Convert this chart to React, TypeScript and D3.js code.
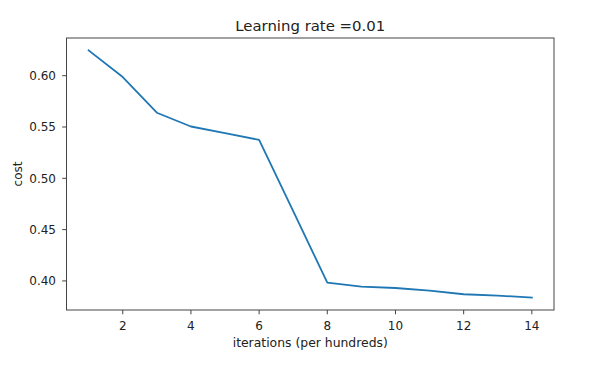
import React from "react";
import * as d3 from "d3";

const iterations = [1, 2, 3, 4, 5, 6, 7, 8, 9, 10, 11, 12, 13, 14];
const costs = [0.6247, 0.5987, 0.5639, 0.5505, 0.5441, 0.5375, 0.4680, 0.3983, 0.3944, 0.3931, 0.3905, 0.3870, 0.3857, 0.3837];
const xTicks = [2, 4, 6, 8, 10, 12, 14];
const yTicks = [0.4, 0.45, 0.5, 0.55, 0.6];
const title = "Learning rate =0.01";
const xLabel = "iterations (per hundreds)";
const yLabel = "cost";

const W = 590;
const H = 367;
const L = 66.5, R = 554, T = 38, B = 310;

export default function App() {
  const xMin = d3.min(iterations)!, xMax = d3.max(iterations)!;
  const yMin = d3.min(costs)!, yMax = d3.max(costs)!;
  const xPad = (xMax - xMin) * 0.05;
  const yPad = (yMax - yMin) * 0.05;
  const x = d3.scaleLinear().domain([xMin - xPad, xMax + xPad]).range([L, R]);
  const y = d3.scaleLinear().domain([yMin - yPad, yMax + yPad]).range([B, T]);
  const line = d3.line<number>().x((_, i) => x(iterations[i])).y((d) => y(d));
  const font = "DejaVu Sans, sans-serif";
  const axisColor = "#444";
  const textColor = "#222";
  return (
    <svg width={W} height={H} style={{ position: "absolute", left: 0, top: 0, background: "#fff" }} fontFamily={font}>
      <rect x={0} y={0} width={W} height={H} fill="#fff" />
      <path d={line(costs) || ""} fill="none" stroke="#1f77b4" strokeWidth={1.8} strokeLinejoin="round" strokeLinecap="square" />
      <rect x={L} y={T} width={R - L} height={B - T} fill="none" stroke={axisColor} strokeWidth={1} />
      {xTicks.map((t) => (
        <g key={"x" + t}>
          <line x1={x(t)} x2={x(t)} y1={B} y2={B + 4.3} stroke={axisColor} strokeWidth={1} />
          <text x={x(t)} y={330} textAnchor="middle" fontSize={12} fill={textColor}>{t}</text>
        </g>
      ))}
      {yTicks.map((t) => (
        <g key={"y" + t}>
          <line x1={L - 4.3} x2={L} y1={y(t)} y2={y(t)} stroke={axisColor} strokeWidth={1} />
          <text x={56} y={y(t)} dy="0.36em" textAnchor="end" fontSize={12} fill={textColor}>{d3.format(".2f")(t)}</text>
        </g>
      ))}
      <text x={(L + R) / 2} y={31} textAnchor="middle" fontSize={14.9} fill={textColor}>{title}</text>
      <text x={(L + R) / 2} y={347} textAnchor="middle" fontSize={12.4} fill={textColor}>{xLabel}</text>
      <text transform={`translate(21.7,${(T + B) / 2}) rotate(-90)`} textAnchor="middle" fontSize={12} fill={textColor}>{yLabel}</text>
    </svg>
  );
}
